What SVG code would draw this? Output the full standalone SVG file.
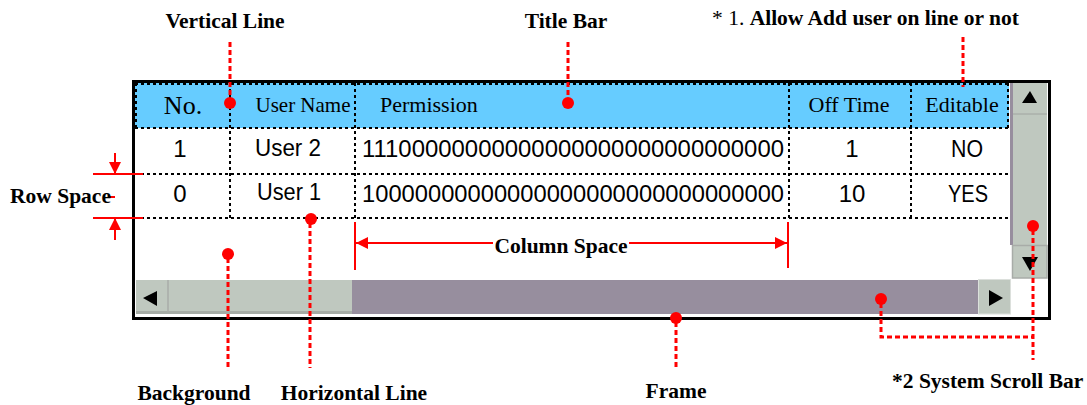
<svg xmlns="http://www.w3.org/2000/svg" width="1087" height="405" viewBox="0 0 1087 405">
<style>
.lbl{font-family:"Liberation Serif","Times New Roman",serif;font-weight:bold;font-size:21.5px;fill:#000}
.hdr{font-family:"Liberation Serif","Times New Roman",serif;font-size:22px;fill:#000}
.cell{font-family:"Liberation Sans",Arial,sans-serif;font-size:24px;fill:#000}
.grid{stroke:#000;stroke-width:2;stroke-dasharray:3 3;fill:none}
.rd{stroke:#FF0000;stroke-width:3;stroke-dasharray:5 3;fill:none}
.rs{stroke:#FF0000;stroke-width:2;fill:none}
.dot{fill:#FF0000}
.sbg{fill:#BFC8BF}
.thumb{fill:#978E9E}
</style>
<defs>
<marker id="ah" viewBox="0 0 12 12" refX="12" refY="6" markerWidth="12" markerHeight="12" markerUnits="userSpaceOnUse" orient="auto">
<path d="M0,0 L12,6 L0,12 Z" fill="#FF0000"/>
</marker>
</defs>

<g id="table">
<rect x="133.5" y="81.5" width="916" height="237" fill="#FFFFFF"/>
<rect x="135" y="83" width="874" height="45" fill="#66CCFF"/>
<g class="grid">
<line x1="135" y1="84" x2="1009" y2="84"/>
<line x1="136" y1="83" x2="136" y2="128"/>
<line x1="1008" y1="83" x2="1008" y2="128"/>
<line x1="135" y1="128" x2="1009" y2="128"/>
<line x1="135" y1="174" x2="1009" y2="174"/>
<line x1="135" y1="218" x2="1009" y2="218"/>
<line x1="230" y1="83" x2="230" y2="218"/>
<line x1="355" y1="83" x2="355" y2="218"/>
<line x1="789" y1="83" x2="789" y2="218"/>
<line x1="911" y1="83" x2="911" y2="218"/>
</g>
<text class="hdr" x="183" y="114" text-anchor="middle" style="font-size:26px">No.</text>
<text class="hdr" x="303" y="112" text-anchor="middle" style="font-size:21px">User Name</text>
<text class="hdr" x="380" y="112">Permission</text>
<text class="hdr" x="849" y="112" text-anchor="middle">Off Time</text>
<text class="hdr" x="962" y="112" text-anchor="middle">Editable</text>

<text class="cell" x="180" y="157" text-anchor="middle">1</text>
<text class="cell" x="255" y="156" textLength="66" lengthAdjust="spacingAndGlyphs">User 2</text>
<text class="cell" x="362" y="157" textLength="422" lengthAdjust="spacingAndGlyphs">11100000000000000000000000000000</text>
<text class="cell" x="852" y="157" text-anchor="middle">1</text>
<text class="cell" x="951" y="157" textLength="32" lengthAdjust="spacingAndGlyphs">NO</text>
<text class="cell" x="180" y="202" text-anchor="middle">0</text>
<text class="cell" x="257" y="200" textLength="64" lengthAdjust="spacingAndGlyphs">User 1</text>
<text class="cell" x="362" y="202" textLength="422" lengthAdjust="spacingAndGlyphs">10000000000000000000000000000000</text>
<text class="cell" x="852" y="202" text-anchor="middle">10</text>
<text class="cell" x="948" y="202" textLength="40" lengthAdjust="spacingAndGlyphs">YES</text>
</g>

<g id="vscroll">
<rect x="1010" y="83" width="3" height="162" class="thumb"/>
<rect x="1013" y="83" width="34" height="162" class="sbg"/>
<line x1="1013" y1="114" x2="1047" y2="114" stroke="#A0A4A0" stroke-width="1"/>
<path d="M1030,91 L1037,103 L1022,103 Z" fill="#000"/>
<rect x="1012.5" y="245.5" width="34.5" height="32.5" class="sbg" stroke="#A8ACA8" stroke-width="1.5"/>
<path d="M1022,257 L1038,257 L1030,271 Z" fill="#000"/>
</g>

<g id="hscroll">
<rect x="136" y="280" width="216" height="34" class="sbg"/>
<rect x="136" y="311" width="216" height="3" fill="#A6ACA6"/>
<line x1="168" y1="280" x2="168" y2="312" stroke="#A8ACA8" stroke-width="1.5"/>
<path d="M143,298 L157,291 L157,306 Z" fill="#000"/>
<rect x="352" y="280" width="626" height="34" class="thumb"/>
<rect x="978.5" y="279.5" width="32" height="34.5" class="sbg" stroke="#DCE0DC" stroke-width="1"/>
<path d="M989,290 L1003,298 L989,306 Z" fill="#000"/>
</g>

<g id="frame">
<rect x="133.5" y="81.5" width="916" height="237" fill="none" stroke="#000" stroke-width="3"/>
</g>

<g id="connectors">
<line class="rd" x1="230" y1="42" x2="230" y2="98"/>
<circle class="dot" cx="230" cy="103" r="6"/>
<line class="rd" x1="568" y1="42" x2="568" y2="98"/>
<circle class="dot" cx="568" cy="103" r="6"/>
<line class="rd" x1="963" y1="37" x2="963" y2="87"/>

<line class="rs" x1="93" y1="174" x2="143" y2="174"/>
<line class="rs" x1="93" y1="218" x2="143" y2="218"/>
<line class="rs" x1="115" y1="153" x2="115" y2="174" marker-end="url(#ah)"/>
<line class="rs" x1="115" y1="240" x2="115" y2="218" marker-end="url(#ah)"/>
<line class="rs" x1="108" y1="197" x2="115" y2="197"/>

<line class="rs" x1="355" y1="222" x2="355" y2="270"/>
<line class="rs" x1="788" y1="222" x2="788" y2="268"/>
<line class="rs" x1="493" y1="243" x2="356" y2="243" marker-end="url(#ah)"/>
<line class="rs" x1="629" y1="243" x2="787" y2="243" marker-end="url(#ah)"/>

<circle class="dot" cx="228" cy="254" r="6"/>
<line class="rd" x1="228" y1="258" x2="228" y2="368"/>
<circle class="dot" cx="311" cy="219" r="6"/>
<line class="rd" x1="310" y1="223" x2="310" y2="368"/>
<circle class="dot" cx="676" cy="318" r="6"/>
<line class="rd" x1="676" y1="322" x2="676" y2="370"/>
<circle class="dot" cx="881" cy="299" r="6"/>
<polyline class="rd" points="881,303 881,337 1033,337"/>
<circle class="dot" cx="1033" cy="226" r="6"/>
<line class="rd" x1="1033" y1="230" x2="1033" y2="360"/>
</g>

<g id="labels">
<text class="lbl" x="225" y="28" text-anchor="middle">Vertical Line</text>
<text class="lbl" x="566" y="28" text-anchor="middle">Title Bar</text>
<text class="lbl" x="712" y="25"><tspan font-weight="normal">* 1. </tspan>Allow Add user on line or not</text>
<text class="lbl" x="10" y="203">Row Space</text>
<text class="lbl" x="561" y="253" text-anchor="middle">Column Space</text>
<text class="lbl" x="194" y="400" text-anchor="middle">Background</text>
<text class="lbl" x="354" y="400" text-anchor="middle">Horizontal Line</text>
<text class="lbl" x="676" y="398" text-anchor="middle">Frame</text>
<text class="lbl" x="892" y="388">*2 System Scroll Bar</text>
</g>
</svg>
